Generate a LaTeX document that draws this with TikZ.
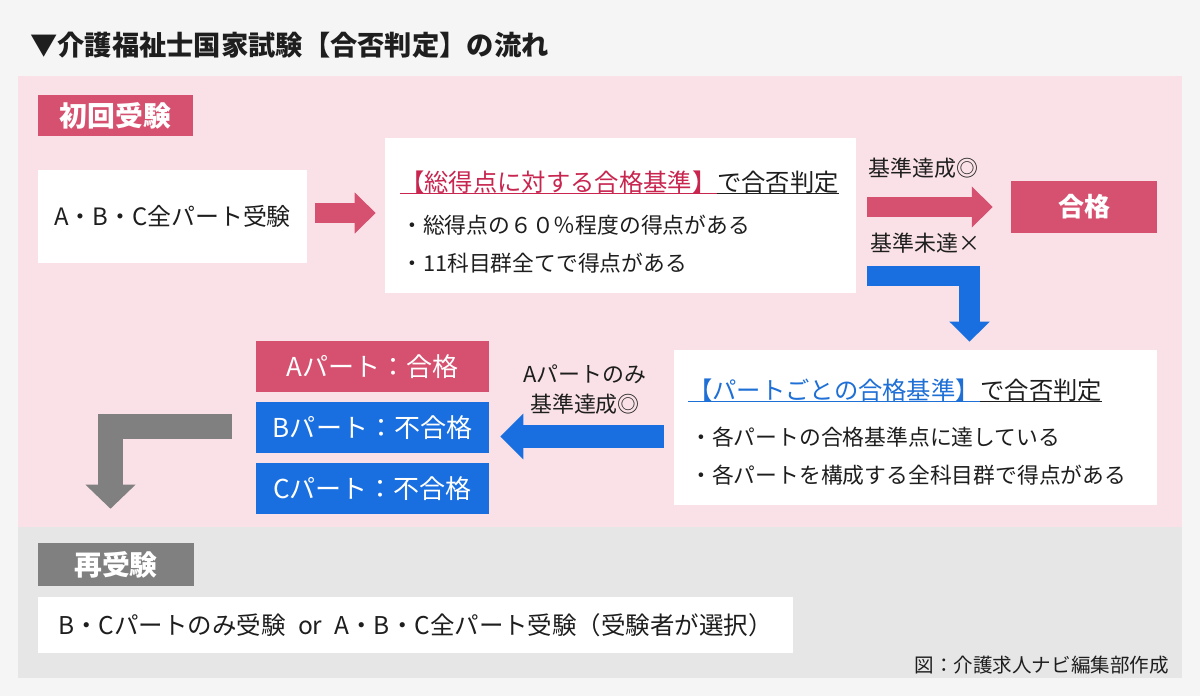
\documentclass[tikz,border=0pt]{standalone}
\usepackage{fontspec}
\setmainfont{Noto Sans CJK JP}
\usepackage{xcolor}
\usetikzlibrary{arrows.meta,calc,positioning}

\definecolor{pagebg}{HTML}{F5F5F5}
\definecolor{pinkbg}{HTML}{F9E1E7}
\definecolor{graybg}{HTML}{E6E6E6}
\definecolor{tagpink}{HTML}{D6506F}
\definecolor{critpink}{HTML}{C8254F}
\definecolor{partblue}{HTML}{1A6FE0}
\definecolor{headblue}{HTML}{1E6FD6}
\definecolor{taggray}{HTML}{808080}
\definecolor{ink}{HTML}{1E1E1E}

\tikzset{
  labelbox/.style={fill=#1, text=white, inner sep=0pt, font=\fontsize{19.8pt}{22pt}\selectfont\bfseries},
  partbox/.style={fill=#1, text=white, inner sep=0pt, minimum width=5.825cm, minimum height=1.275cm, font=\fontsize{18.5pt}{22pt}\selectfont},
  whitebox/.style={fill=white, inner sep=0pt},
  heading/.style={inner sep=0pt, font=\fontsize{17.3pt}{20pt}\selectfont},
  bullet/.style={text=ink, inner sep=0pt, anchor=west, font=\fontsize{15.5pt}{18pt}\selectfont},
  note/.style={text=ink, inner sep=0pt, font=\fontsize{15.6pt}{21.3pt}\selectfont},
  fat/.style n args={4}{draw=#1, line width=#2, line join=miter, -{Triangle[width=#3, length=#4, line width=0pt]}},
}

\begin{document}
\begin{tikzpicture}[x=0.025cm, y=-0.025cm]
  \fill[pagebg] (0,0) rectangle (1200,696);
  \useasboundingbox (0,0) rectangle (1200,696);
  \fill[pinkbg] (18,76) rectangle (1182,527);
  \fill[graybg] (18,527) rectangle (1182,678);

  \node[anchor=west, text=ink, inner sep=0pt, font=\fontsize{19.4pt}{22pt}\selectfont\bfseries] (title) at (30,45) {▼介護福祉士国家試験【合否判定】の流れ};

  % first exam
  \node[labelbox=tagpink, minimum width=3.875cm, minimum height=1.025cm] (firsttag) at (115.5,115.5) {初回受験};
  \node[whitebox, minimum width=6.725cm, minimum height=2.325cm, text=ink, font=\fontsize{17pt}{20pt}\selectfont] (allparts) at (172.5,216.5) {A・B・C全パート受験};

  \node[whitebox, minimum width=11.775cm, minimum height=3.875cm] (crit1) at (620.5,215.5) {};
  \node[heading, anchor=west, text=critpink] (crit1a) at (400,182) {【総得点に対する合格基準】};
  \node[heading, anchor=base west, text=ink] (crit1b) at (crit1a.base east) {で合否判定};
  \draw[critpink, line width=1pt] ([yshift=-1.5pt]crit1a.base west) -- ([yshift=-1.5pt]crit1a.base east);
  \draw[ink, line width=1pt] ([yshift=-1.5pt]crit1b.base west) -- ([yshift=-1.5pt]crit1b.base east);
  \node[bullet] (crit1c) at (401,225) {・総得点の６０％程度の得点がある};
  \node[bullet] (crit1d) at (401,263) {・11科目群全てで得点がある};

  \node[labelbox=tagpink, minimum width=3.65cm, minimum height=1.3cm, font=\fontsize{18.5pt}{22pt}\selectfont\bfseries] (pass) at (1084,207) {合格};
  \node[note, anchor=west] (reached) at (868,168) {基準達成◎};
  \node[note, anchor=west] (missed) at (870,243) {基準未達×};

  \draw[fat={tagpink}{14.2pt}{29.2pt}{14.9pt}] ($(allparts.east)+(8,-3.5)$) -- ($(allparts.east -| crit1.west)+(-9,-3.5)$);
  \draw[fat={tagpink}{14.2pt}{29.2pt}{14.9pt}] ($(pass.west -| crit1.east)+(11,0)$) -- ($(pass.west)+(-18,0)$);

  % per-part check
  \node[whitebox, minimum width=12.075cm, minimum height=3.875cm] (crit2) at (915.5,427.5) {};
  \node[heading, anchor=west, text=headblue] (crit2a) at (688,390) {【パートごとの合格基準】};
  \node[heading, anchor=base west, text=ink] (crit2b) at (crit2a.base east) {で合否判定};
  \draw[headblue, line width=1pt] ([yshift=-1.5pt]crit2a.base west) -- ([yshift=-1.5pt]crit2a.base east);
  \draw[ink, line width=1pt] ([yshift=-1.5pt]crit2b.base west) -- ([yshift=-1.5pt]crit2b.base east);
  \node[bullet] (crit2c) at (690,437) {・各パートの合格基準点に達している};
  \node[bullet] (crit2d) at (690,475) {・各パートを構成する全科目群で得点がある};

  \draw[fat={partblue}{14.9pt}{28.5pt}{14.2pt}] ($(crit1.east)+(11,60.5)$) -| ($(crit2.north)+(54,-8)$);

  \node[partbox=tagpink] (partA) at (372.5,366.5) {Aパート：合格};
  \node[partbox=partblue] (partB) at (372.5,427.5) {Bパート：不合格};
  \node[partbox=partblue] (partC) at (372.5,488.5) {Cパート：不合格};
  \node[note, align=center] (onlyA) at (585,390) {Aパートのみ\\基準達成◎};

  \draw[fat={partblue}{16.4pt}{32.7pt}{16.4pt}] ($(crit2.west)+(-10,9)$) -- ($(partB.east)+(11,9)$);

  % retake
  \node[labelbox=taggray, minimum width=3.9cm, minimum height=1.075cm] (retag) at (116,564.5) {再受験};
  \draw[fat={taggray}{17.8pt}{35.6pt}{17.1pt}] ($(partB.west)+(-24,-1)$) -| ($(retag.north)+(-5.5,-34)$);
  \node[whitebox, minimum width=18.875cm, minimum height=1.4cm, text=ink, font=\fontsize{17.4pt}{20pt}\selectfont] (retake) at (415.5,625) {B・Cパートのみ受験\hspace{0.5em}or\hspace{0.5em}A・B・C全パート受験（受験者が選択）};

  \node[anchor=east, text=ink, inner sep=0pt, font=\fontsize{13.9pt}{16pt}\selectfont] (credit) at (1169,665) {図：介護求人ナビ編集部作成};
\end{tikzpicture}
\end{document}
